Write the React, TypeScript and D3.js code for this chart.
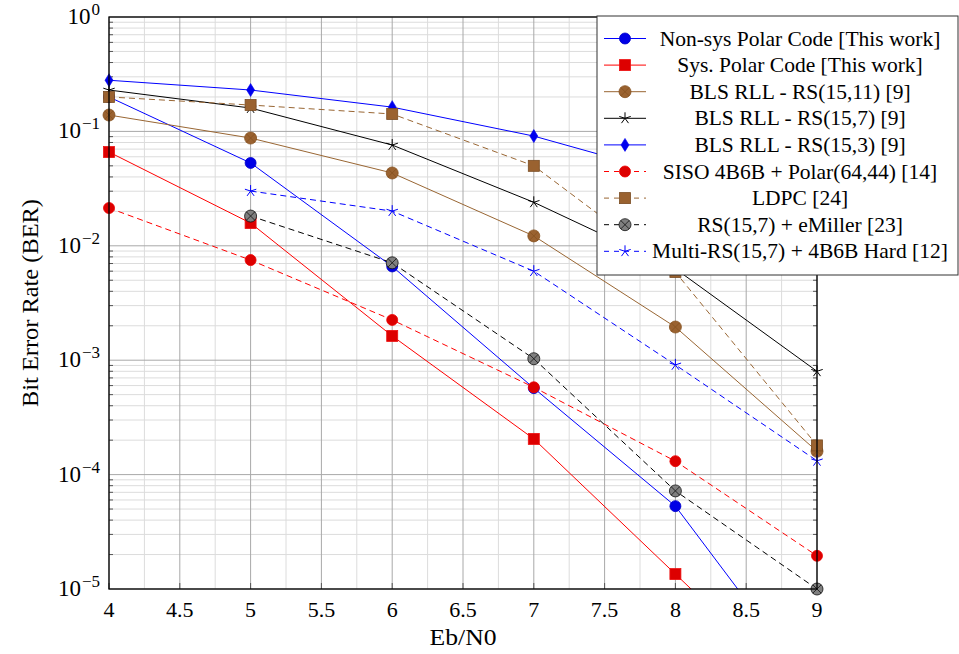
import React, { useEffect, useRef } from 'react';
import * as d3 from 'd3';

// Eb/N0 (dB) points
const ebn0 = [4, 5, 6, 7, 8, 9];
const ebn0From5 = [5, 6, 7, 8, 9];

// BER values
const nonSysPolar = [0.2, 0.053, 0.0066, 0.00057, 5.3e-5, 1.2e-6];
const sysPolar = [0.066, 0.0158, 0.00163, 2.05e-4, 1.35e-5, 9e-7];
const blsRs1511 = [0.139, 0.0875, 0.0433, 0.0122, 0.00195, 1.6e-4];
const blsRs157 = [0.23, 0.16, 0.076, 0.024, 0.0063, 8.0e-4];
const blsRs153 = [0.28, 0.23, 0.163, 0.091, 0.041];
const sisoPolar = [0.0214, 0.0075, 0.00225, 5.8e-4, 1.31e-4, 1.95e-5];
const ldpc = [0.2, 0.17, 0.142, 0.05, 0.0059, 1.8e-4];
const rsEMiller = [0.0182, 0.0071, 0.00103, 7.2e-5, 1.0e-5];
const multiRs = [0.0301, 0.0201, 0.006, 9.1e-4, 1.32e-4];

const xTicks = [4, 4.5, 5, 5.5, 6, 6.5, 7, 7.5, 8, 8.5, 9];
const yExponents = [0, -1, -2, -3, -4, -5];

const FONT = '"Liberation Serif", "DejaVu Serif", serif';

type Series = {
  name: string;
  x: number[];
  y: number[];
  stroke: string;
  dash: string | null;
  mark: 'circle' | 'square' | 'otimes' | 'star' | 'diamond';
  fill: string;
  markStroke: string;
};

const series: Series[] = [
  { name: 'Non-sys Polar Code [This work]', x: ebn0, y: nonSysPolar, stroke: '#0000ff', dash: null, mark: 'circle', fill: '#0000e6', markStroke: '#0000cc' },
  { name: 'Sys. Polar Code [This work]', x: ebn0, y: sysPolar, stroke: '#ff0000', dash: null, mark: 'square', fill: '#dd0000', markStroke: '#ee1111' },
  { name: 'BLS RLL - RS(15,11) [9]', x: ebn0, y: blsRs1511, stroke: '#996633', dash: null, mark: 'otimes', fill: '#9a6230', markStroke: '#86521f' },
  { name: 'BLS RLL - RS(15,7) [9]', x: ebn0, y: blsRs157, stroke: '#000000', dash: null, mark: 'star', fill: 'none', markStroke: '#000000' },
  { name: 'BLS RLL - RS(15,3) [9]', x: ebn0.slice(0, 5), y: blsRs153, stroke: '#0000ff', dash: null, mark: 'diamond', fill: '#0000ee', markStroke: '#0000ee' },
  { name: 'SISO 4B6B + Polar(64,44) [14]', x: ebn0, y: sisoPolar, stroke: '#ff0000', dash: '6,4', mark: 'circle', fill: '#dd0000', markStroke: '#ee0000' },
  { name: 'LDPC [24]', x: ebn0, y: ldpc, stroke: '#996633', dash: '6,4', mark: 'square', fill: '#9a6230', markStroke: '#7a4c22' },
  { name: 'RS(15,7) + eMiller [23]', x: ebn0From5, y: rsEMiller, stroke: '#000000', dash: '6,4', mark: 'otimes', fill: '#7f7f7f', markStroke: '#111111' },
  { name: 'Multi-RS(15,7) + 4B6B Hard [12]', x: ebn0From5, y: multiRs, stroke: '#0000ff', dash: '6,4', mark: 'star', fill: 'none', markStroke: '#0000ff' },
];

function drawMark(g: any, s: Series, cx: number, cy: number) {
  const m = g.append('g').attr('transform', `translate(${cx},${cy})`);
  if (s.mark === 'circle') {
    m.append('circle').attr('r', 5.5).attr('fill', s.fill).attr('stroke', s.markStroke).attr('stroke-width', 0.8);
  } else if (s.mark === 'square') {
    m.append('rect').attr('x', -5.5).attr('y', -5.5).attr('width', 11).attr('height', 11)
      .attr('fill', s.fill).attr('stroke', s.markStroke).attr('stroke-width', 0.8);
  } else if (s.mark === 'otimes') {
    m.append('circle').attr('r', 6).attr('fill', s.fill).attr('stroke', s.markStroke).attr('stroke-width', 0.8);
    const d = 6 * Math.SQRT1_2;
    m.append('path').attr('d', `M${-d},${-d}L${d},${d}M${-d},${d}L${d},${-d}`)
      .attr('stroke', s.markStroke).attr('stroke-width', 0.8);
  } else if (s.mark === 'star') {
    const path = d3.range(5).map((k) => {
      const a = -Math.PI / 2 + (k * 2 * Math.PI) / 5;
      return `M0,0L${6 * Math.cos(a)},${6 * Math.sin(a)}`;
    }).join('');
    m.append('path').attr('d', path).attr('stroke', s.markStroke).attr('stroke-width', 1).attr('fill', 'none');
  } else if (s.mark === 'diamond') {
    m.append('path').attr('d', 'M0,-6.5L4,0L0,6.5L-4,0Z').attr('fill', s.fill).attr('stroke', s.markStroke).attr('stroke-width', 0.6);
  }
}

export default function App() {
  const ref = useRef<SVGSVGElement>(null);

  useEffect(() => {
    const width = 959;
    const height = 654;
    const margin = { top: 17, left: 109, right: 142, bottom: 65 };
    const gw = width - margin.left - margin.right;
    const gh = height - margin.top - margin.bottom;

    const svg = d3.select(ref.current);
    svg.selectAll('*').remove();
    svg.attr('width', width).attr('height', height).style('font-family', FONT);

    const xScale = d3.scaleLinear().domain([4, 9]).range([margin.left, margin.left + gw]);
    const yScale = d3.scaleLog().domain([1e-5, 1]).range([margin.top + gh, margin.top]);

    const grid = svg.append('g');
    // minor grid
    d3.range(4.25, 9, 0.5).forEach((v) => {
      grid.append('line').attr('x1', xScale(v)).attr('x2', xScale(v)).attr('y1', margin.top).attr('y2', margin.top + gh)
        .attr('stroke', '#dcdcdc').attr('stroke-width', 1);
    });
    yExponents.slice(1).forEach((e) => {
      d3.range(2, 10).forEach((k) => {
        const v = k * Math.pow(10, e);
        grid.append('line').attr('x1', margin.left).attr('x2', margin.left + gw).attr('y1', yScale(v)).attr('y2', yScale(v))
          .attr('stroke', '#dcdcdc').attr('stroke-width', 1);
      });
    });
    // major grid
    xTicks.forEach((v) => {
      grid.append('line').attr('x1', xScale(v)).attr('x2', xScale(v)).attr('y1', margin.top).attr('y2', margin.top + gh)
        .attr('stroke', '#a8a8a8').attr('stroke-width', 1);
    });
    yExponents.forEach((e) => {
      const v = Math.pow(10, e);
      grid.append('line').attr('x1', margin.left).attr('x2', margin.left + gw).attr('y1', yScale(v)).attr('y2', yScale(v))
        .attr('stroke', '#a8a8a8').attr('stroke-width', 1);
    });

    // tick marks on bottom/left/right
    const ticks = svg.append('g').attr('stroke', '#555').attr('stroke-width', 1);
    xTicks.forEach((v) => {
      ticks.append('line').attr('x1', xScale(v)).attr('x2', xScale(v)).attr('y1', margin.top + gh).attr('y2', margin.top + gh - 6);
    });
    yExponents.slice(1).forEach((e) => {
      d3.range(2, 10).forEach((k) => {
        const y = yScale(k * Math.pow(10, e));
        ticks.append('line').attr('x1', margin.left).attr('x2', margin.left + 4).attr('y1', y).attr('y2', y);
        ticks.append('line').attr('x1', margin.left + gw).attr('x2', margin.left + gw - 4).attr('y1', y).attr('y2', y);
      });
    });

    // clip for lines
    svg.append('defs').append('clipPath').attr('id', 'plotclip').append('rect')
      .attr('x', margin.left).attr('y', margin.top).attr('width', gw).attr('height', gh);

    const line = d3.line<[number, number]>().x((d) => xScale(d[0])).y((d) => yScale(d[1]));

    const lines = svg.append('g').attr('clip-path', 'url(#plotclip)');
    series.forEach((s) => {
      const pts = s.x.map((x, i) => [x, s.y[i]] as [number, number]);
      lines.append('path').attr('d', line(pts)).attr('fill', 'none').attr('stroke', s.stroke)
        .attr('stroke-width', 1).attr('stroke-dasharray', s.dash ?? null);
    });
    const marks = svg.append('g');
    series.forEach((s) => {
      s.x.forEach((x, i) => {
        if (s.y[i] < 1e-5 * 0.99) return;
        drawMark(marks, s, xScale(x), yScale(s.y[i]));
      });
    });

    // frame
    svg.append('rect').attr('x', margin.left).attr('y', margin.top).attr('width', gw).attr('height', gh)
      .attr('fill', 'none').attr('stroke', '#000').attr('stroke-width', 1.3);

    // x tick labels
    xTicks.forEach((v) => {
      svg.append('text').attr('x', xScale(v)).attr('y', margin.top + gh + 28).attr('text-anchor', 'middle')
        .attr('font-size', 22).attr('fill', '#000').text(String(v));
    });
    // y tick labels
    yExponents.forEach((e) => {
      const t = svg.append('text').attr('x', margin.left - 9).attr('y', yScale(Math.pow(10, e)) + 7)
        .attr('text-anchor', 'end').attr('font-size', 23).attr('fill', '#000');
      t.append('tspan').text('10');
      t.append('tspan').attr('dx', 1).attr('dy', -9).attr('font-size', 17).text(e === 0 ? '0' : `\u2212${-e}`);
    });

    // axis titles
    svg.append('text').attr('x', margin.left + gw / 2).attr('y', 645).attr('text-anchor', 'middle')
      .attr('font-size', 23).attr('textLength', 67).attr('lengthAdjust', 'spacingAndGlyphs').text('Eb/N0');
    svg.append('text').attr('transform', `translate(38, ${margin.top + gh / 2}) rotate(-90)`).attr('text-anchor', 'middle')
      .attr('font-size', 23).attr('textLength', 208).attr('lengthAdjust', 'spacingAndGlyphs').text('Bit Error Rate (BER)');

    // legend
    const lg = svg.append('g');
    lg.append('rect').attr('x', 597).attr('y', 16).attr('width', 361).attr('height', 259)
      .attr('fill', '#fff').attr('stroke', '#333').attr('stroke-width', 1);
    series.forEach((s, i) => {
      const y = 38.5 + i * 26.6;
      lg.append('line').attr('x1', 604).attr('x2', 646).attr('y1', y).attr('y2', y)
        .attr('stroke', s.stroke).attr('stroke-width', 1).attr('stroke-dasharray', s.dash ? '5,5' : null);
      drawMark(lg, s, 625, y);
      lg.append('text').attr('x', 800).attr('y', y + 7).attr('text-anchor', 'middle')
        .attr('font-size', 21.5).attr('fill', '#000').text(s.name);
    });
  }, []);

  return (
    <div style={{ position: 'absolute', left: 0, top: 0 }}>
      <svg ref={ref}></svg>
    </div>
  );
}
